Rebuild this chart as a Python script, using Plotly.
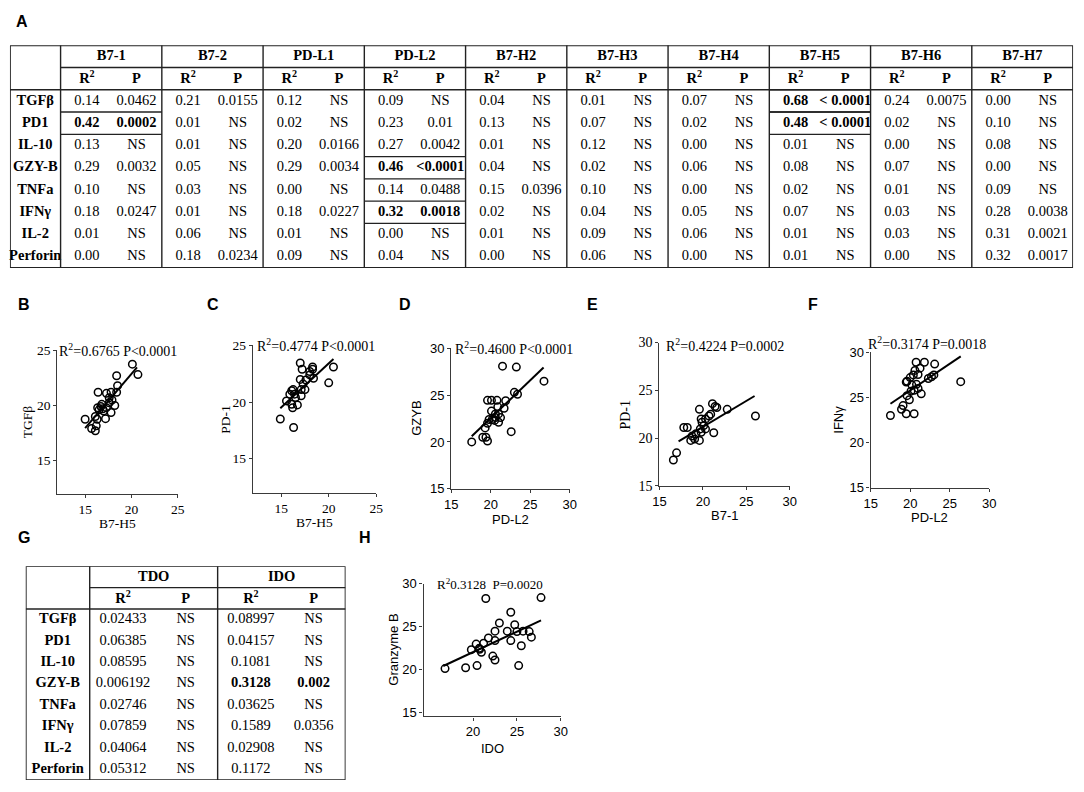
import plotly.graph_objects as go

W, H = 1084, 792
SERIF = 'Liberation Serif, Times New Roman, serif'
SANS = 'Liberation Sans, Arial, sans-serif'

# ---------------- table A data ----------------
genes = ['TGFβ', 'PD1', 'IL-10', 'GZY-B', 'TNFa', 'IFNγ', 'IL-2', 'Perforin']
molecules = ['B7-1', 'B7-2', 'PD-L1', 'PD-L2', 'B7-H2', 'B7-H3', 'B7-H4', 'B7-H5', 'B7-H6', 'B7-H7']

r2_a = [
    [0.14, 0.42, 0.13, 0.29, 0.10, 0.18, 0.01, 0.00],
    [0.21, 0.01, 0.01, 0.05, 0.03, 0.01, 0.06, 0.18],
    [0.12, 0.02, 0.20, 0.29, 0.00, 0.18, 0.01, 0.09],
    [0.09, 0.23, 0.27, 0.46, 0.14, 0.32, 0.00, 0.04],
    [0.04, 0.13, 0.01, 0.04, 0.15, 0.02, 0.01, 0.00],
    [0.01, 0.07, 0.12, 0.02, 0.10, 0.04, 0.09, 0.06],
    [0.07, 0.02, 0.00, 0.06, 0.00, 0.05, 0.06, 0.00],
    [0.68, 0.48, 0.01, 0.08, 0.02, 0.07, 0.01, 0.01],
    [0.24, 0.02, 0.00, 0.07, 0.01, 0.03, 0.03, 0.00],
    [0.00, 0.10, 0.08, 0.00, 0.09, 0.28, 0.31, 0.32],
]
p_a = [
    ['0.0462', '0.0002', 'NS', '0.0032', 'NS', '0.0247', 'NS', 'NS'],
    ['0.0155', 'NS', 'NS', 'NS', 'NS', 'NS', 'NS', '0.0234'],
    ['NS', 'NS', '0.0166', '0.0034', 'NS', '0.0227', 'NS', 'NS'],
    ['NS', '0.01', '0.0042', '<0.0001', '0.0488', '0.0018', 'NS', 'NS'],
    ['NS', 'NS', 'NS', 'NS', '0.0396', 'NS', 'NS', 'NS'],
    ['NS', 'NS', 'NS', 'NS', 'NS', 'NS', 'NS', 'NS'],
    ['NS', 'NS', 'NS', 'NS', 'NS', 'NS', 'NS', 'NS'],
    ['< 0.0001', '< 0.0001', 'NS', 'NS', 'NS', 'NS', 'NS', 'NS'],
    ['0.0075', 'NS', 'NS', 'NS', 'NS', 'NS', 'NS', 'NS'],
    ['NS', 'NS', 'NS', 'NS', 'NS', '0.0038', '0.0021', '0.0017'],
]
bold_a = [(0, 1), (7, 0), (7, 1), (3, 3), (3, 5)]  # (molecule, gene)

# ---------------- table G data ----------------
enzymes = ['TDO', 'IDO']
r2_g = [
    ['0.02433', '0.06385', '0.08595', '0.006192', '0.02746', '0.07859', '0.04064', '0.05312'],
    ['0.08997', '0.04157', '0.1081', '0.3128', '0.03625', '0.1589', '0.02908', '0.1172'],
]
p_g = [
    ['NS', 'NS', 'NS', 'NS', 'NS', 'NS', 'NS', 'NS'],
    ['NS', 'NS', 'NS', '0.002', 'NS', '0.0356', 'NS', 'NS'],
]
bold_g = [(1, 3)]

# ---------------- scatter data ----------------
b_x = [20.1, 20.7, 18.4, 18.5, 18.4, 16.4, 17.3, 17.8, 17.6, 18.2, 16.8, 16.35, 16.5, 17.3,
       17.0, 17.8, 17.2, 16.1, 16.3, 15.0, 16.2, 15.7, 16.1, 16.7, 17.6, 16.9, 17.9]
b_y = [23.75, 22.8, 22.7, 21.8, 21.2, 21.2, 21.1, 21.2, 20.7, 20.0, 20.1, 19.8, 19.6, 19.8,
       19.5, 19.35, 18.8, 19.0, 18.75, 18.75, 18.15, 17.9, 17.7, 19.9, 20.25, 19.7, 20.5]
fit_b_x = [15.0, 20.6]
fit_b_y = [17.95, 23.45]

c_x = [17.0, 17.2, 18.3, 18.3, 18.0, 18.4, 20.5, 20.0, 17.0, 17.6, 17.3, 17.1, 17.5, 16.25,
       16.1, 16.4, 15.9, 16.5, 17.1, 15.55, 16.1, 16.7, 16.2, 14.9, 16.3, 18.0]
c_y = [23.45, 22.9, 23.1, 22.9, 22.4, 22.1, 23.1, 21.7, 22.0, 21.95, 21.6, 21.1, 21.1, 21.1,
       21.0, 20.7, 20.7, 20.4, 20.55, 20.1, 19.8, 19.75, 19.5, 18.5, 17.75, 22.7]
fit_c_x = [14.9, 20.5]
fit_c_y = [19.45, 23.8]

d_x = [21.5, 23.25, 26.75, 23.0, 23.4, 19.6, 20.1, 20.8, 21.9, 20.9, 21.7, 20.1, 20.6, 21.0,
       21.25, 20.6, 20.2, 20.5, 21.0, 19.8, 19.6, 19.3, 22.6, 19.0, 19.4, 19.6, 17.6]
d_y = [28.1, 28.0, 26.5, 25.3, 25.1, 24.45, 24.45, 24.45, 24.4, 23.75, 23.6, 23.3, 23.0, 23.0,
       22.6, 22.6, 22.4, 22.3, 22.1, 22.4, 22.0, 21.5, 21.1, 20.5, 20.5, 20.1, 20.0]
fit_d_x = [17.6, 26.7]
fit_d_y = [20.6, 27.95]

e_x = [16.97, 16.6, 17.8, 18.2, 19.6, 21.1, 21.6, 22.8, 20.9, 19.8, 20.3, 19.9, 20.1, 20.3,
       19.7, 19.8, 21.25, 19.2, 18.75, 19.05, 18.6, 19.6, 20.7, 21.4, 26.05]
e_y = [18.45, 17.7, 21.1, 21.1, 23.0, 23.6, 23.2, 23.0, 22.5, 22.0, 22.0, 21.65, 21.3, 20.95,
       20.95, 20.6, 20.55, 20.45, 20.2, 19.9, 19.75, 19.75, 22.3, 23.3, 22.3]
fit_e_x = [17.2, 25.95]
fit_e_y = [19.65, 24.4]

f_x = [17.5, 19.1, 18.9, 19.5, 20.5, 19.9, 19.6, 20.1, 20.5, 21.0, 20.8, 21.4, 19.6, 20.0,
       20.4, 21.0, 20.6, 21.25, 20.75, 21.8, 23.1, 22.3, 22.7, 23.0, 26.4, 19.5, 20.2]
f_y = [23.0, 24.1, 23.7, 23.2, 23.2, 24.75, 25.2, 25.7, 25.8, 26.0, 26.45, 25.4, 26.8, 27.2,
       27.5, 27.55, 28.0, 28.25, 28.9, 28.9, 28.7, 27.1, 27.3, 27.5, 26.75, 26.7, 26.4]
fit_f_x = [17.5, 26.4]
fit_f_y = [24.3, 29.55]

h_x = [21.45, 27.75, 24.3, 23.0, 24.75, 22.5, 23.9, 25.0, 25.7, 26.4, 26.65, 21.75, 22.5, 24.3,
       25.5, 20.35, 21.2, 19.8, 20.75, 20.95, 22.25, 22.5, 20.45, 19.15, 16.8, 25.2, 20.7]
h_y = [28.3, 28.4, 26.7, 25.45, 25.25, 24.5, 24.5, 24.45, 24.5, 24.45, 23.8, 23.7, 23.4, 23.4,
       22.8, 23.0, 23.1, 22.35, 22.4, 22.05, 21.6, 21.15, 20.5, 20.25, 20.15, 20.5, 22.5]
fit_h_x = [16.6, 27.75]
fit_h_y = [20.45, 25.75]


def dom_x(x0, x1):
    return [x0 / W, x1 / W]


def dom_y(y0, y1):
    return [1 - y1 / H, 1 - y0 / H]


fig = go.Figure()
axes = {}
shapes = []
annotations = []


def axis_keys(n):
    s = '' if n == 1 else str(n)
    return 'x' + s, 'y' + s, 'xaxis' + s, 'yaxis' + s


# ---------------- scatter panels ----------------
panels = [
    dict(x=b_x, y=b_y, fx=fit_b_x, fy=fit_b_y, box=(51, 173, 350, 496), xr=[12, 25], yr=[12, 25],
         xt=[15, 20, 25], yt=[15, 20, 25], xf=(SERIF, 13.5), yf=(SERIF, 13.5),
         xtitle='B7-H5', ytitle='TGFβ', xtf=(SERIF, 13.5), ytf=(SERIF, 13.5), xs=-30, ys=-29,
         stat='R<sup>2</sup>=0.6765 P<0.0001', sshift=(0, 0), sf=14),
    dict(x=c_x, y=c_y, fx=fit_c_x, fy=fit_c_y, box=(249, 374, 345, 495), xr=[12, 25], yr=[12, 25],
         xt=[15, 20, 25], yt=[15, 20, 25], xf=(SERIF, 13.5), yf=(SERIF, 13.5),
         xtitle='B7-H5', ytitle='PD-1', xtf=(SERIF, 13.5), ytf=(SERIF, 13.5), xs=-30, ys=-28,
         stat='R<sup>2</sup>=0.4774 P<0.0001', sshift=(2, 0), sf=14),
    dict(x=d_x, y=d_y, fx=fit_d_x, fy=fit_d_y, box=(450, 570, 348, 491), xr=[15, 30], yr=[15, 30],
         xt=[15, 20, 25, 30], yt=[15, 20, 25, 30], xf=(SANS, 13), yf=(SANS, 13),
         xtitle='PD-L2', ytitle='GZYB', xtf=(SANS, 13), ytf=(SANS, 13), xs=-31, ys=-35,
         stat='R<sup>2</sup>=0.4600 P<0.0001', sshift=(4, 0), sf=14),
    dict(x=e_x, y=e_y, fx=fit_e_x, fy=fit_e_y, box=(661, 793, 342, 488), xr=[15, 30], yr=[15, 30],
         xt=[15, 20, 25, 30], yt=[15, 20, 25, 30], xf=(SANS, 13), yf=(SERIF, 14),
         xtitle='B7-1', ytitle='PD-1', xtf=(SANS, 13), ytf=(SERIF, 14), xs=-30, ys=-34,
         stat='R<sup>2</sup>=0.4224 P=0.0002', sshift=(0, -2), sf=14),
    dict(x=f_x, y=f_y, fx=fit_f_x, fy=fit_f_y, box=(875, 995, 352, 490), xr=[15, 30], yr=[15, 30],
         xt=[15, 20, 25, 30], yt=[15, 20, 25, 30], xf=(SANS, 13), yf=(SANS, 13),
         xtitle='PD-L2', ytitle='IFNγ', xtf=(SANS, 13), ytf=(SANS, 13), xs=-30, ys=-33,
         stat='R<sup>2</sup>=0.3174 P=0.0018', sshift=(-3, 9), sf=14),
    dict(x=h_x, y=h_y, fx=fit_h_x, fy=fit_h_y, box=(422, 561, 588, 723), xr=[14.35, 30], yr=[14.6, 30],
         xt=[20, 25, 30], yt=[15, 20, 25, 30], xf=(SANS, 13), yf=(SANS, 13),
         xtitle='IDO', ytitle='Granzyme B', xtf=(SANS, 13), ytf=(SANS, 13), xs=-32, ys=-30,
         stat='R<sup>2</sup>0.3128  P=0.0020', sshift=(-2, 0), sf=13),
]

for i, p in enumerate(panels, start=1):
    xa, ya, xk, yk = axis_keys(i)
    fig.add_trace(go.Scatter(x=p['x'], y=p['y'], mode='markers', xaxis=xa, yaxis=ya,
                             marker=dict(symbol='circle-open', size=7.5, color='black',
                                         line=dict(width=1.5, color='black')),
                             cliponaxis=False, showlegend=False, hoverinfo='skip'))
    fig.add_trace(go.Scatter(x=p['fx'], y=p['fy'], mode='lines', xaxis=xa, yaxis=ya,
                             line=dict(color='black', width=2), showlegend=False, hoverinfo='skip'))
    x0, x1, y0, y1 = p['box']
    common = dict(showline=True, linecolor='#3a3a3a', linewidth=1.4, ticks='outside', ticklen=3,
                  tickwidth=1.2, tickcolor='#3a3a3a', showgrid=False, zeroline=False,
                  fixedrange=True)
    axes[xk] = dict(common, domain=dom_x(x0, x1), range=p['xr'], tickvals=p['xt'], anchor=ya,
                    tickfont=dict(family=p['xf'][0], size=p['xf'][1], color='black'))
    axes[yk] = dict(common, domain=dom_y(y0, y1), range=p['yr'], tickvals=p['yt'], anchor=xa,
                    tickfont=dict(family=p['yf'][0], size=p['yf'][1], color='black'))
    annotations.append(dict(text=p['xtitle'], xref=xa + ' domain', yref=ya + ' domain', x=0.5, y=0,
                            yshift=p['xs'], showarrow=False, xanchor='center', yanchor='middle',
                            font=dict(family=p['xtf'][0], size=p['xtf'][1], color='black')))
    annotations.append(dict(text=p['ytitle'], xref=xa + ' domain', yref=ya + ' domain', x=0, y=0.5,
                            xshift=p['ys'], textangle=-90, showarrow=False, xanchor='center',
                            yanchor='middle',
                            font=dict(family=p['ytf'][0], size=p['ytf'][1], color='black')))
    annotations.append(dict(text=p['stat'], xref=xa + ' domain', yref=ya + ' domain', x=0.5, y=1,
                            xshift=p['sshift'][0], yshift=p['sshift'][1], showarrow=False,
                            xanchor='center', yanchor='middle',
                            font=dict(family=SERIF, size=p['sf'], color='black')))


# ---------------- tables ----------------
def draw_table(n, box, row_labels, groups, r2_cols, p_cols, bold, fsize, box_bold):
    xa, ya, xk, yk = axis_keys(n)
    lw = 0.5
    ng = len(groups)
    nrows = len(row_labels) + 2
    xs, ys, ts = [], [], []
    for i, g in enumerate(row_labels):
        xs.append(lw / 2)
        ys.append(i + 2.5)
        ts.append('<b>%s</b>' % g)
    for k, m in enumerate(groups):
        xs += [lw + k + 0.5, lw + k + 0.26, lw + k + 0.75]
        ys += [0.5, 1.55, 1.55]
        ts += ['<b>%s</b>' % m, '<b>R<sup>2</sup></b>', '<b>P</b>']
        for i in range(len(row_labels)):
            r = r2_cols[k][i]
            r = r if isinstance(r, str) else '%.2f' % r
            pv = p_cols[k][i]
            if (k, i) in bold:
                r, pv = '<b>%s</b>' % r, '<b>%s</b>' % pv
            xs += [lw + k + 0.26, lw + k + 0.75]
            ys += [i + 2.5, i + 2.5]
            ts += [r, pv]
    fig.add_trace(go.Scatter(x=xs, y=ys, text=ts, mode='text', xaxis=xa, yaxis=ya,
                             textfont=dict(family=SERIF, size=fsize, color='black'),
                             showlegend=False, hoverinfo='skip', cliponaxis=False))
    x0, x1, y0, y1 = box
    axes[xk] = dict(domain=dom_x(x0, x1), range=[0, lw + ng], visible=False, anchor=ya,
                    fixedrange=True)
    axes[yk] = dict(domain=dom_y(y0, y1), range=[nrows, 0], visible=False, anchor=xa,
                    fixedrange=True)
    ln = dict(color='#222', width=1.4)
    shapes.append(dict(type='rect', xref=xa, yref=ya, x0=0, x1=lw + ng, y0=0, y1=nrows,
                       line=dict(color='#222', width=1.8)))
    for k in range(ng):
        shapes.append(dict(type='line', xref=xa, yref=ya, x0=lw + k, x1=lw + k, y0=0, y1=nrows,
                           line=ln))
    shapes.append(dict(type='line', xref=xa, yref=ya, x0=lw, x1=lw + ng, y0=1, y1=1, line=ln))
    shapes.append(dict(type='line', xref=xa, yref=ya, x0=0, x1=lw + ng, y0=2, y1=2, line=ln))
    if box_bold:
        for k, i in bold:
            for yy in (i + 2, i + 3):
                shapes.append(dict(type='line', xref=xa, yref=ya, x0=lw + k, x1=lw + k + 1,
                                   y0=yy, y1=yy, line=ln))


draw_table(7, (3, 1080, 39, 266), genes, molecules, r2_a, p_a, bold_a, 14.5, True)
draw_table(8, (19, 343, 570, 788), genes, enzymes, r2_g, p_g, bold_g, 14.5, False)

# ---------------- panel letters ----------------
letters = ['A', 'B', 'C', 'D', 'E', 'F', 'G', 'H']
letter_pos = [(15, 15), (17, 303), (209, 303), (403, 303), (593, 303), (817, 303), (17, 541), (363, 541)]
for t, (lx, ly) in zip(letters, letter_pos):
    annotations.append(dict(text='<b>%s</b>' % t, xref='paper', yref='paper', x=lx / W, y=1 - ly / H,
                            showarrow=False, xanchor='center', yanchor='middle',
                            font=dict(family=SANS, size=16, color='black')))

fig.update_layout(width=W, height=H, margin=dict(l=0, r=0, t=0, b=0),
                  paper_bgcolor='white', plot_bgcolor='white', showlegend=False,
                  shapes=shapes, annotations=annotations, **axes)

# the page body has an 8px default margin; drop it so the figure sits at the window corner
fig.write_html('out.html', config={'displayModeBar': False},
               post_script="document.body.style.margin='0px';")
